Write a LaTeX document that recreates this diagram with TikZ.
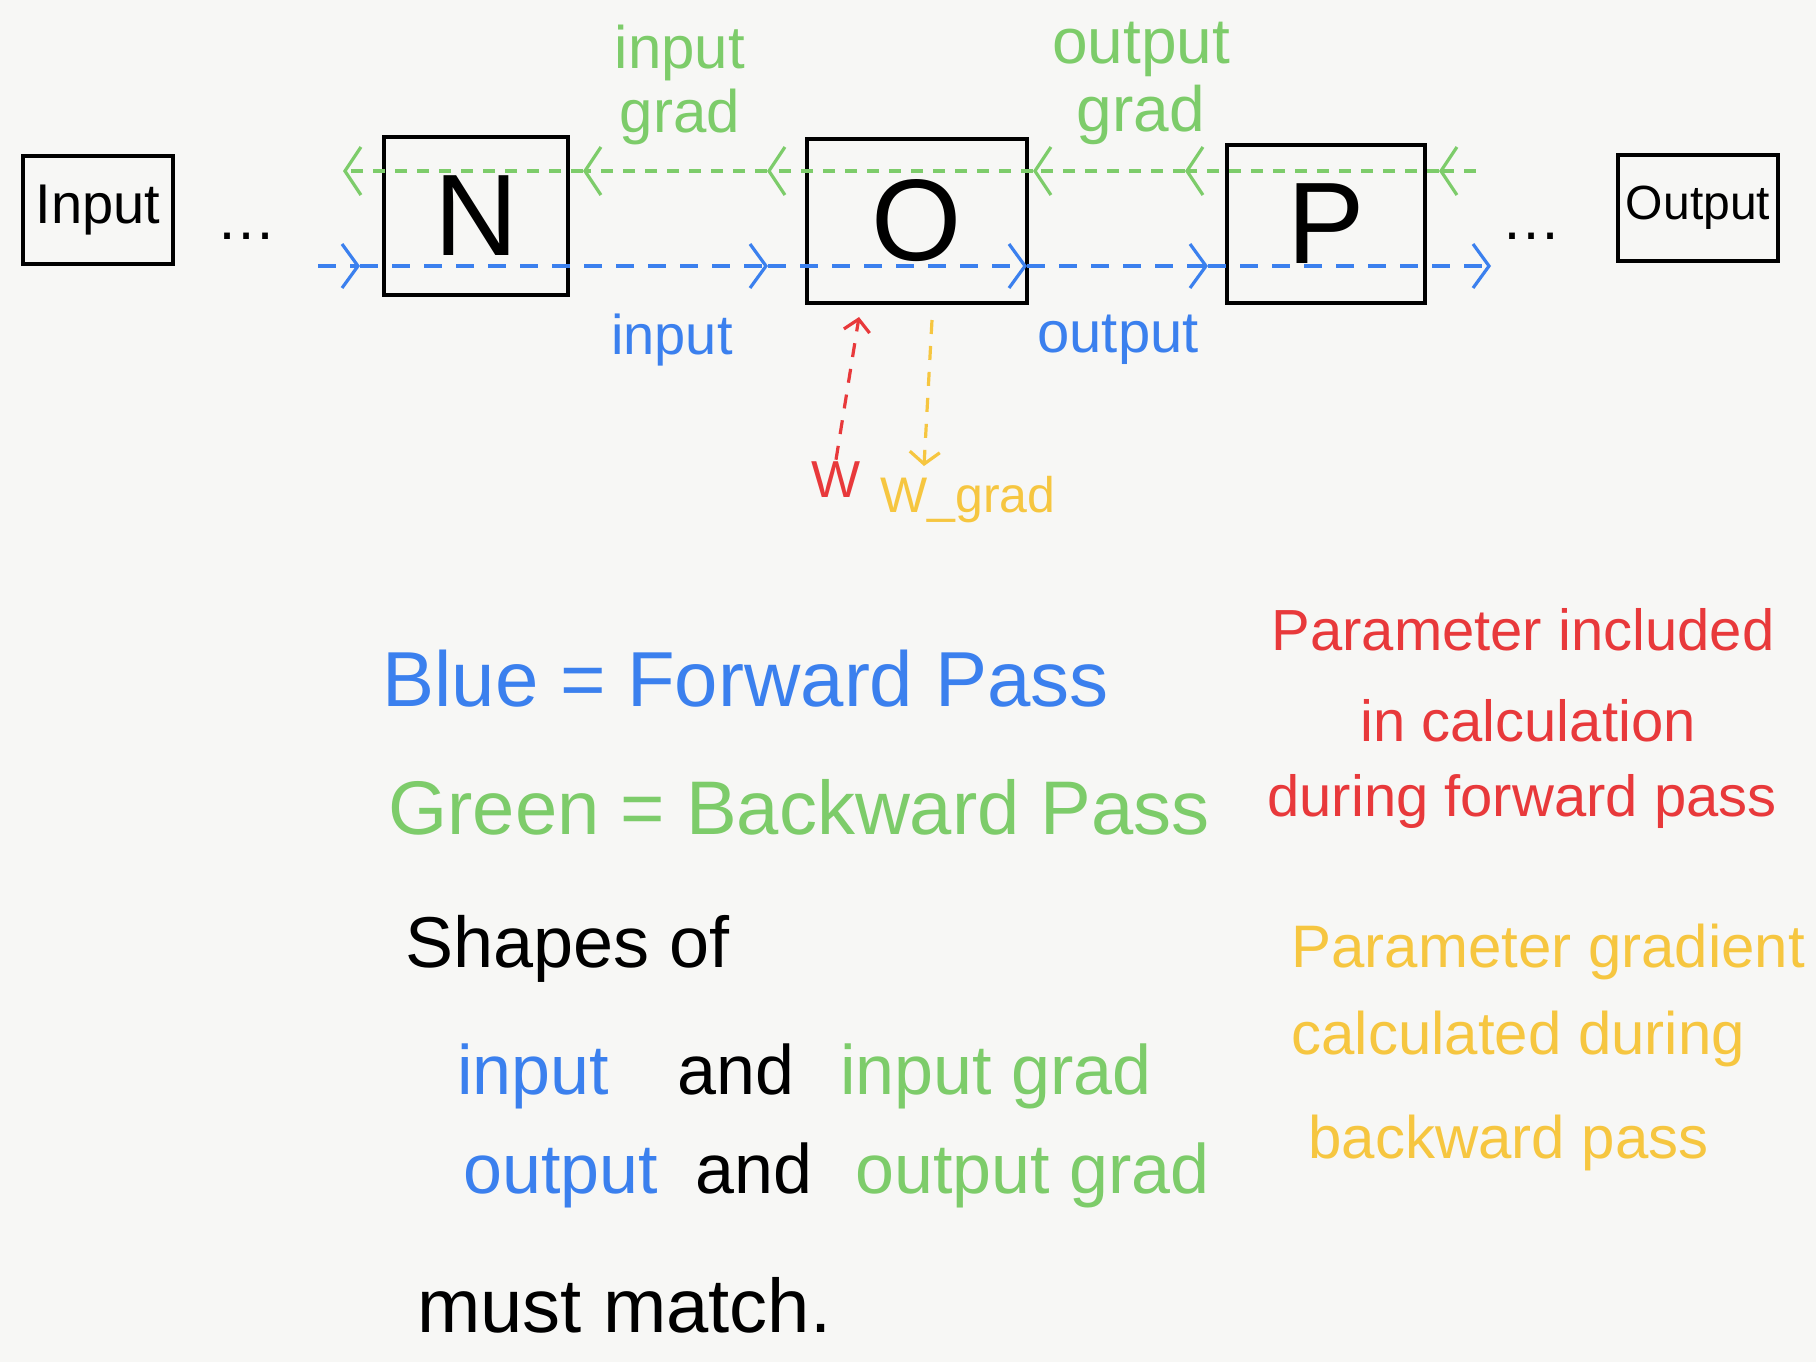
\documentclass[tikz,border=0pt]{standalone}
\usepackage{fontspec}
\setmainfont{Liberation Sans}
\usetikzlibrary{positioning,calc,arrows.meta}
\definecolor{penblue}{RGB}{59,128,238}
\definecolor{pengreen}{RGB}{125,204,106}
\definecolor{penred}{RGB}{232,57,59}
\definecolor{penyellow}{RGB}{246,198,64}
\definecolor{paper}{RGB}{247,247,245}
\newcommand{\pen}[1]{\fontsize{#1}{#1}\selectfont}
\tikzset{%
  layer/.style = {rectangle,draw,line width=2pt,inner sep=0pt},
  fwdarrow/.style = {-{Straight Barb[length=8pt,width=22pt]},penblue,
        line width=1.6pt,dash pattern=on 9pt off 7pt},
  bwdarrow/.style = {-{Straight Barb[length=8pt,width=24pt]},pengreen,
        line width=1.6pt,dash pattern=on 6pt off 5pt},
  warrow/.style = {-{Straight Barb[length=6pt,width=13pt]},penred,
        line width=1.6pt,dash pattern=on 7pt off 6pt},
  gradarrow/.style = {-{Straight Barb[length=6pt,width=15pt]},penyellow,
        line width=1.6pt,dash pattern=on 7pt off 6pt},
  note/.style = {anchor=base west,inner sep=0pt}
}

\begin{document}
\begin{tikzpicture}[x=0.5pt,y=-0.5pt]
\fill[paper] (0,0) rectangle (1816,1362);
\useasboundingbox (0,0) rectangle (1816,1362);

% layers
\node[layer,minimum width=75pt,minimum height=54pt,font=\pen{28}] (in) at (98,210) {Input};
\node[font=\pen{30}] (dotsL) at (246,236) {\dots};
\node[layer,minimum width=92pt,minimum height=79pt,font=\pen{58}] (N) at (476,216) {N};
\node[layer,minimum width=110pt,minimum height=82pt,font=\pen{58}] (O) at (917,221) {O};
\node[layer,minimum width=99pt,minimum height=79pt,font=\pen{58}] (P) at (1326,224) {P};
\node[font=\pen{30}] (dotsR) at (1531,236) {\dots};
\node[layer,minimum width=80pt,minimum height=53pt,font=\pen{24}] (out) at (1698,208) {Output};

% backward pass (green)
\coordinate (gy) at (0,171);
\coordinate (g0) at (1476,171);
\coordinate (g1) at ($(P.east|-gy)+(12,0)$);
\coordinate (g2) at ($(P.west|-gy)+(-40,0)$);
\coordinate (g3) at ($(O.east|-gy)+(4,0)$);
\coordinate (g4) at ($(O.west|-gy)+(-38,0)$);
\coordinate (g5) at ($(N.east|-gy)+(13,0)$);
\coordinate (g6) at ($(N.west|-gy)+(-39,0)$);
\foreach \a/\b in {g0/g1,g1/g2,g2/g3,g3/g4,g4/g5,g5/g6}
  \draw[bwdarrow] (\a) -- (\b);

% forward pass (blue)
\coordinate (by) at (0,266);
\coordinate (b0) at (318,266);
\coordinate (b1) at ($(N.west|-by)+(-22,0)$);
\coordinate (b2) at ($(O.west|-by)+(-37,0)$);
\coordinate (b3) at ($(O.east|-by)+(-2,0)$);
\coordinate (b4) at ($(P.west|-by)+(-17,0)$);
\coordinate (b5) at ($(P.east|-by)+(64,0)$);
\foreach \a/\b in {b0/b1,b1/b2,b2/b3,b3/b4,b4/b5}
  \draw[fwdarrow] (\a) -- (\b);

% labels
\node[pengreen,font=\pen{30},align=center,inner sep=0pt] (ingrad) at (680,85) {input\\[2pt]grad};
\node[pengreen,font=\pen{32},align=center,inner sep=0pt] (outgrad) at (1141,83) {output\\[2pt]grad};
\node[penblue,font=\pen{28},inner sep=0pt] (inlab) at (672,340) {input};
\node[penblue,font=\pen{29},inner sep=0pt] (outlab) at (1118,340) {output};

% parameter and its gradient
\node[penred,font=\pen{26},inner sep=1pt] (W) at (836,480) {W};
\node[penyellow,font=\pen{25},inner sep=0pt] (Wg) at (968,500) {W\_grad};
\coordinate (wtip) at ($(O.south)+(-58,12)$);
\coordinate (wgtail) at ($(O.south)+(15,15)$);
\coordinate (wgtip) at (924,466);
\draw[warrow] (W.north) -- (wtip);
\draw[gradarrow] (wgtail) -- (wgtip);

% legend
\node[note,penblue,font=\pen{39}] (fwd) at (382,706) {Blue = Forward Pass};
\node[note,pengreen,font=\pen{38}] (bwd) at (388,834) {Green = Backward Pass};
\node[note,font=\pen{36}] (shapes) at (405,967) {Shapes of};
\node[note,penblue,font=\pen{35}] (s1a) at (457,1094) {input};
\node[note,font=\pen{35}] (s1b) at (677,1094) {and};
\node[note,pengreen,font=\pen{35}] (s1c) at (840,1094) {input grad};
\node[note,penblue,font=\pen{35}] (s2a) at (463,1193) {output};
\node[note,font=\pen{35}] (s2b) at (695,1193) {and};
\node[note,pengreen,font=\pen{35}] (s2c) at (855,1193) {output grad};
\node[note,font=\pen{38}] (match) at (417,1332) {must match.};

% notes on the right
\node[anchor=base,inner sep=0pt,penred,font=\pen{29}] (red1) at (1523,650) {Parameter included};
\node[anchor=base,inner sep=0pt,penred,font=\pen{29}] (red2) at (1528,741) {in calculation};
\node[anchor=base,inner sep=0pt,penred,font=\pen{29}] (red3) at (1522,816) {during forward pass};
\node[note,penyellow,font=\pen{30}] (yel1) at (1291,967) {Parameter gradient};
\node[note,penyellow,font=\pen{30}] (yel2) at (1291,1054) {calculated during};
\node[note,penyellow,font=\pen{30}] (yel3) at (1308,1158) {backward pass};
\end{tikzpicture}
\end{document}
